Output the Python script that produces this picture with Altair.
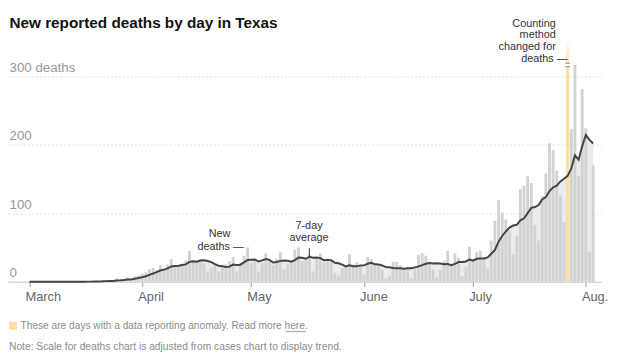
import altair as alt
import pandas as pd

FONT = "Liberation Sans"

start_date = "2020-03-01"
march = [0, 0, 0, 0, 0, 0, 0, 0, 0, 0, 0, 0, 0, 0, 0, 0,
         1, 0, 1, 1, 1, 2, 1, 1, 5, 3, 4, 6, 3, 8, 9]
april = [12, 14, 18, 20, 17, 24, 19, 25, 33, 22, 23, 24, 31, 45, 31,
         29, 33, 27, 15, 20, 24, 15, 25, 25, 30, 36, 15, 28, 38, 50]
may = [28, 32, 15, 27, 41, 30, 24, 33, 43, 18, 25, 31, 47, 50, 30, 33,
       39, 15, 33, 41, 28, 34, 30, 13, 9, 20, 22, 40, 25, 28, 22]
june = [10, 36, 33, 24, 24, 17, 5, 9, 29, 29, 24, 19, 22, 5, 19,
        39, 42, 38, 27, 17, 7, 17, 31, 45, 25, 41, 35, 8, 22, 51]
july = [34, 43, 45, 34, 19, 60, 89, 119, 101, 91, 74, 40, 67, 135, 140, 154,
        144, 83, 60, 125, 158, 202, 192, 162, 126, 87, 675, 223, 316, 154, 281]
august = [224, 44, 170]
anomaly_dates = ["2020-07-27"]
month_labels = ["March", "April", "May", "June", "July", "Aug."]

deaths = march + april + may + june + july + august
dates = pd.date_range(start_date, periods=len(deaths), freq="D").strftime("%Y-%m-%d")
df = pd.DataFrame({"date": list(dates), "deaths": deaths})
df["anomaly"] = df["date"].isin(anomaly_dates)
df["trend"] = df["deaths"].where(~df["anomaly"])

month_ticks = [alt.DateTime(year=2020, month=m, date=1, utc=True) for m in range(3, 9)]
label_expr = ("[" + ",".join("'%s'" % s for s in month_labels) + "][utcmonth(datum.value) - 2]")

xscale = alt.Scale(type="utc", domain=[
    alt.DateTime(year=2020, month=2, date=25, hours=11, minutes=7, utc=True),
    alt.DateTime(year=2020, month=8, date=3, hours=20, minutes=38, utc=True)])
xaxis = alt.Axis(values=month_ticks, labelExpr=label_expr, labelAlign="left",
                 labelOffset=-4.5, labelPadding=4, labelFontSize=13, labelColor="#666",
                 labelFont=FONT, tickColor="#999", tickSize=5, domainColor="#ccc",
                 grid=False, title=None, labelFlush=False, labelOverlap=False,
                 labelBaseline="top")
yscale = alt.Scale(domain=[0, 350], clamp=True, nice=False)
yaxis = alt.Axis(values=[0, 100, 200, 300],
                 labelExpr="datum.value == 300 ? '300 deaths' : datum.label",
                 labelAlign="left", labelPadding=-1, ticks=False, tickSize=0, domain=False,
                 grid=True, gridDash=[2, 2], gridColor="#dedede", labelColor="#999",
                 labelFontSize=13.5, labelFont=FONT, labelBaseline="alphabetic",
                 labelOffset=-5, title=None, labelFlush=False)

x = alt.X("date:T", scale=xscale, axis=xaxis)
base = alt.Chart(df)

avg_base = base.transform_window(avg="mean(trend)", frame=[-6, 0], sort=[{"field": "date"}])
area = avg_base.mark_area(color="#ebebeb").encode(
    x=x, y=alt.Y("avg:Q", scale=yscale, axis=yaxis))
line = avg_base.mark_line(color="#444", strokeWidth=2).encode(
    x=x, y=alt.Y("avg:Q", scale=yscale, axis=yaxis))
bars = base.transform_filter("!datum.anomaly").mark_bar(width=2.9, color="#d2d2d2").encode(
    x=x, y=alt.Y("deaths:Q", scale=yscale, axis=yaxis))

grad = alt.LinearGradient(gradient="linear", x1=0, x2=0, y1=0, y2=1, stops=[
    alt.GradientStop(color="rgba(251,223,158,0)", offset=0),
    alt.GradientStop(color="#fbdf9e", offset=0.09),
    alt.GradientStop(color="#fbdf9e", offset=1)])
yellow = base.transform_filter("datum.anomaly").mark_bar(width=3.3, fill=grad, strokeWidth=0).encode(
    x=x, y=alt.Y("deaths:Q", scale=yscale, axis=yaxis))

gap = base.transform_filter("datum.anomaly").mark_tick(
    orient="horizontal", size=5, thickness=2.6, color="white", opacity=1).encode(x=x, y=alt.value(23.35))
cut1 = base.transform_filter("datum.anomaly").mark_tick(
    orient="horizontal", size=5, thickness=1, color="#999", opacity=1).encode(x=x, y=alt.value(21.7))
cut2 = base.transform_filter("datum.anomaly").mark_tick(
    orient="horizontal", size=5, thickness=1, color="#999", opacity=1).encode(x=x, y=alt.value(25))

one = pd.DataFrame({"k": [0]})


def label(text, px, py, align="left", size=11, color="#333", weight="normal", baseline="middle"):
    return alt.Chart(one).mark_text(align=align, baseline=baseline, fontSize=size, color=color,
                                    fontWeight=weight, font=FONT).encode(
        x=alt.value(px), y=alt.value(py), text=alt.value(text))


texts = [
    label("New reported deaths by day in Texas", 1.5, -14.3, size=15.5, color="#121212",
          weight="bold", baseline="alphabetic"),
    label("Counting", 555, -18.3, align="right"),
    label("method", 555, -6.7, align="right"),
    label("changed for", 555, 5, align="right"),
    label("deaths \u2014", 567, 17.3, align="right"),
    label("New", 225.3, 195, align="right"),
    label("deaths \u2014", 239, 207.7, align="right"),
    label("7-day", 305, 186.7, align="center"),
    label("average", 305, 198.3, align="center"),
    label("These are days with a data reporting anomaly. Read more here.", 12.7, 288,
          size=10.3, color="#8c8c8c"),
    label("Note: Scale for deaths chart is adjusted from cases chart to display trend.", 1, 309.3,
          size=10.4, color="#8c8c8c"),
]
pointer = alt.Chart(one).mark_rule(color="#333", strokeWidth=1).encode(
    x=alt.value(305.3), y=alt.value(209), y2=alt.value(219))
underline = alt.Chart(one).mark_rule(color="#8c8c8c", strokeWidth=0.8).encode(
    x=alt.value(281.2), x2=alt.value(301.8), y=alt.value(293.5))
swatch = alt.Chart(one).mark_rect(color="#fbdf9e").encode(
    x=alt.value(1), x2=alt.value(9), y=alt.value(283.5), y2=alt.value(291.5))

chart = alt.layer(area, bars, yellow, line, gap, cut1, cut2, pointer, underline, swatch, *texts).properties(
    width=601, height=243,
    autosize=alt.AutoSizeParams(type="none"),
    padding={"left": 0, "top": 32, "right": 14, "bottom": 78},
).configure_view(stroke=None)

chart.save("out.html", embed_options={"renderer": "svg", "actions": False})
